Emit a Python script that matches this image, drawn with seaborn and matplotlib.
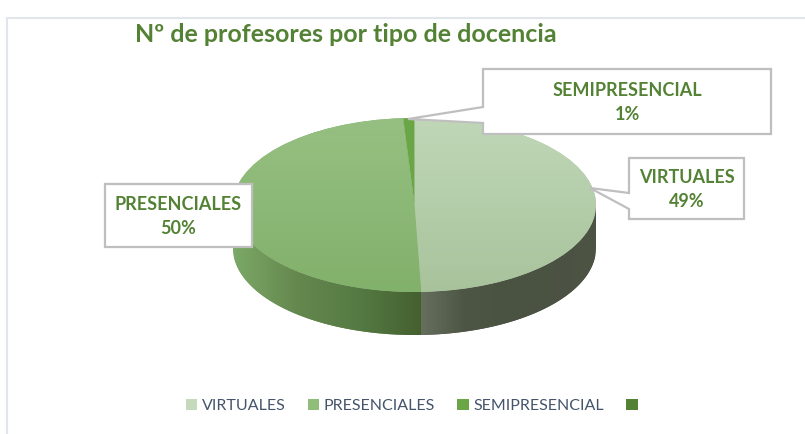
import numpy as np
import matplotlib
matplotlib.use("Agg")
import matplotlib.pyplot as plt
from matplotlib.patches import Patch, Polygon, PathPatch
from matplotlib.path import Path
import seaborn as sns

categories = ["VIRTUALES", "PRESENCIALES", "SEMIPRESENCIAL", ""]
values = [49.4, 49.6, 1.0, 0.0]
title = "Nº de profesores por tipo de docencia"
legend_colors = ["#c5d9bd", "#90bd7a", "#6aa645", "#548235"]

sns.set_theme(style="white")
plt.rcParams["font.family"] = ["Lato", "DejaVu Sans"]

W, H = 805, 434
GREEN = "#548235"
fig = plt.figure(figsize=(W / 100, H / 100), dpi=100, facecolor="white")

# pie axes: ellipse x 233.5..596, y 118..292, depth down to 335
L, R, T, B = 233.0, 596.0, 118.0, 335.0
RY = 87.0
depth = (B - T - 2 * RY) / RY
ax = fig.add_axes([L / W, 1 - B / H, (R - L) / W, (B - T) / H])
start = 90.0
wedges, _ = ax.pie(values, startangle=start, counterclock=False, radius=1,
                   colors=legend_colors, wedgeprops=dict(linewidth=0))

def vgrad(c_top, c_bot):
    return sns.blend_palette([c_bot, c_top], as_cmap=True)

def hgrad(stops):
    return sns.blend_palette(stops, as_cmap=True)

ramp = np.linspace(0, 1, 256)
tops = [("#c0d7b7", "#a8c39c"), ("#96c082", "#82b16b")]
for w, (ct, cb) in zip(wedges[:2], tops):
    w.set_facecolor(cb)
    im = ax.imshow(ramp[:, None], extent=(-1, 1, -1, 1), origin="lower",
                   cmap=vgrad(ct, cb), aspect="auto", zorder=3)
    im.set_clip_path(w)
wedges[2].set_facecolor("#6aa645")
wedges[2].set_zorder(4)

# side wall, split where the presencial/virtual boundary meets the front edge
theta_b = np.deg2rad(start - 3.6 * values[0])
xb = np.cos(theta_b)

def wall(x0, x1, stops):
    x = np.linspace(x0, x1, 200)
    y = -np.sqrt(np.clip(1 - x ** 2, 0, None))
    verts = np.r_[np.c_[x, y], np.c_[x[::-1], y[::-1] - depth]]
    p = PathPatch(Path(np.r_[verts, verts[:1]], closed=True), fc=stops[1], lw=0, zorder=2)
    ax.add_patch(p)
    im = ax.imshow(ramp[None, :], extent=(x0, x1, -1 - depth, 0), origin="lower",
                   cmap=hgrad(stops), aspect="auto", zorder=2.1)
    im.set_clip_path(p)

wall(-1, xb, ["#7ba966", "#65884f", "#557a43", "#44602f"])
wall(xb, 1, ["#666f5e", "#4d5544", "#4a5241", "#4b5243", "#4d5444"])
ax.set_aspect("auto")
ax.set_xlim(-1, 1)
ax.set_ylim(-1 - depth, 1)
ax.axis("off")

# overlay in pixel coordinates
ov = fig.add_axes([0, 0, 1, 1], zorder=5)
ov.set_xlim(0, W)
ov.set_ylim(H, 0)
ov.axis("off")
ov.patch.set_alpha(0)

ov.plot([7, 7, W], [H, 18, 18], color="#e0e6ec", lw=1.5, solid_joinstyle="miter")

def callout(x0, y0, x1, y1, pts, idx):
    verts = [(x0, y0), (x1, y0), (x1, y1), (x0, y1)]
    if pts is not None:
        verts = verts + [pts[2], pts[1], pts[0]]
    ov.add_patch(Polygon(verts, closed=True, fc="white", ec="#bfbfbf", lw=1.6, zorder=2))
    ov.text((x0 + x1) / 2, (y0 + y1) / 2 + 1, f"{categories[idx]}\n{round(values[idx])}%",
            ha="center", va="center", color=GREEN, fontsize=13, fontweight="bold",
            linespacing=1.5, zorder=3)

callout(483, 69, 771, 134, [(483, 107), (408, 119), (483, 123)], 2)
callout(629, 158, 744, 219, [(629, 193), (590, 188), (629, 209)], 0)
callout(105, 184, 252, 247, None, 1)

ov.text(135, 34, title, ha="left", va="center", color=GREEN, fontsize=18, fontweight="bold")

handles = [Patch(fc=c, ec="none") for c in legend_colors]
leg = ov.legend(handles, categories, loc="center", bbox_to_anchor=(414 / W, 1 - 406 / H),
                ncol=4, frameon=False, fontsize=11.5, labelcolor="#44546a",
                handlelength=0.7, handleheight=0.7, handletextpad=0.3, columnspacing=1.4)

fig.savefig("out.png", dpi=100)
